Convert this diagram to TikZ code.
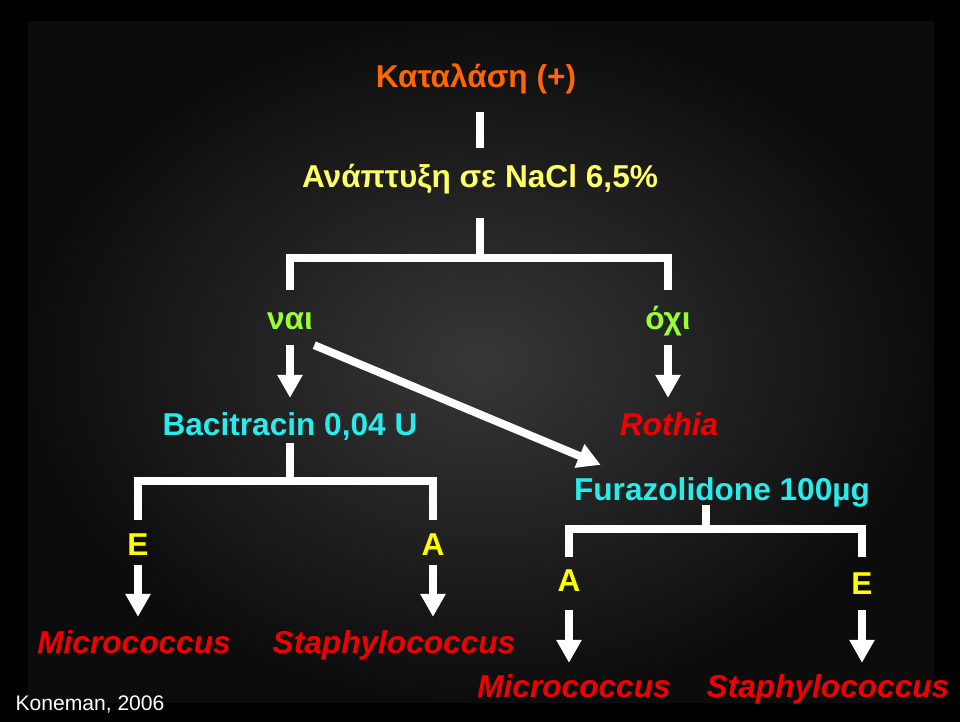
\documentclass[tikz,border=0pt]{standalone}
\usepackage{fontspec}
\setmainfont{Liberation Sans}
\usetikzlibrary{arrows.meta}
\definecolor{katorange}{RGB}{255,102,0}
\definecolor{growyellow}{RGB}{255,255,102}
\definecolor{ansyellow}{RGB}{255,255,0}
\definecolor{yesgreen}{RGB}{153,255,51}
\definecolor{drugcyan}{RGB}{40,235,235}
\definecolor{genusred}{RGB}{240,0,0}
\begin{document}
\begin{tikzpicture}[x=0.02cm,y=-0.02cm,>={Triangle[width=0.48cm,length=0.46cm]},txt/.style={font=\fontsize{18}{22}\selectfont\bfseries, inner sep=0pt, text height=12.9pt, text depth=0pt},genus/.style={txt, font=\fontsize{18}{22}\selectfont\bfseries\itshape, text=genusred},answer/.style={txt, text=ansyellow},drug/.style={txt, text=drugcyan},stem/.style={draw=white, line width=4.5pt},arr/.style={stem, ->}]
% background
\fill[black] (0,0) rectangle (960,722);
\shade[inner color={rgb,255:red,55;green,55;blue,55}, outer color={rgb,255:red,12;green,12;blue,12}] (28,22) rectangle (934,702);
% nodes
\node[txt, text=katorange] (kat) at (476,76) {Καταλάση (+)};
\node[txt, text=growyellow] (grow) at (480,176) {Ανάπτυξη σε NaCl 6,5\%};
\node[txt, text=yesgreen] (yes) at (290,318) {ναι}; \node[txt, text=yesgreen] (no) at (668,318) {όχι};
\node[drug] (bac) at (290,424) {Bacitracin 0,04 U}; \node[genus] (rothia) at (669,424) {Rothia};
\node[drug] (furaz) at (722,489) {Furazolidone 100µg};
\node[answer] (e1) at (138,544) {E}; \node[answer] (a1) at (433,544) {A};
\node[answer] (a2) at (569,580) {A}; \node[answer] (e2) at (862,583) {E};
\node[genus] (micro1) at (134,642) {Micrococcus}; \node[genus] (staph1) at (394,642) {Staphylococcus};
\node[genus] (micro2) at (574,686) {Micrococcus}; \node[genus] (staph2) at (828,686) {Staphylococcus};
\node[font=\fontsize{12}{14}\selectfont, text=white, inner sep=0pt] (ref) at (90,704) {Koneman, 2006};
% connectors
\draw[stem, shorten <=0.49cm, shorten >=0.33cm] (grow.north |- kat.south) -- (grow.north);
\draw[stem, shorten >=0.33cm] ([yshift=-0.61cm]grow.south) -- ++(0,40) -| (yes.north);
\draw[stem, shorten >=0.33cm] ([yshift=-0.61cm]grow.south) -- ++(0,40) -| (no.north);
\draw[arr, shorten <=0.31cm, shorten >=0.29cm] (yes.south) -- (yes.south |- bac.north);
\draw[arr, shorten <=0.31cm, shorten >=0.29cm] (no.south) -- (no.south |- rothia.north);
\draw[arr] ([xshift=0.02cm,yshift=-0.31cm]yes.south east) -- ([xshift=0.54cm,yshift=0.25cm]furaz.north west);
\draw[stem, shorten >=0.25cm] ([yshift=-0.15cm]bac.south) -- ++(0,38) -| (e1.north);
\draw[stem, shorten >=0.25cm] ([yshift=-0.15cm]bac.south) -- ++(0,38) -| (a1.north);
\draw[arr, shorten <=0.19cm, shorten >=0.27cm] (e1.south) -- (e1.south |- micro1.north);
\draw[arr, shorten <=0.19cm, shorten >=0.27cm] (a1.south) -- (a1.south |- staph1.north);
\draw[stem, shorten >=0.23cm] ([xshift=-0.32cm,yshift=-0.09cm]furaz.south) -- ++(0,24) -| (a2.north);
\draw[stem, shorten >=0.29cm] ([xshift=-0.32cm,yshift=-0.09cm]furaz.south) -- ++(0,24) -| (e2.north);
\draw[arr, shorten <=0.37cm, shorten >=0.23cm] (a2.south) -- (a2.south |- micro2.north);
\draw[arr, shorten <=0.31cm, shorten >=0.23cm] (e2.south) -- (e2.south |- staph2.north);
\end{tikzpicture}
\end{document}
